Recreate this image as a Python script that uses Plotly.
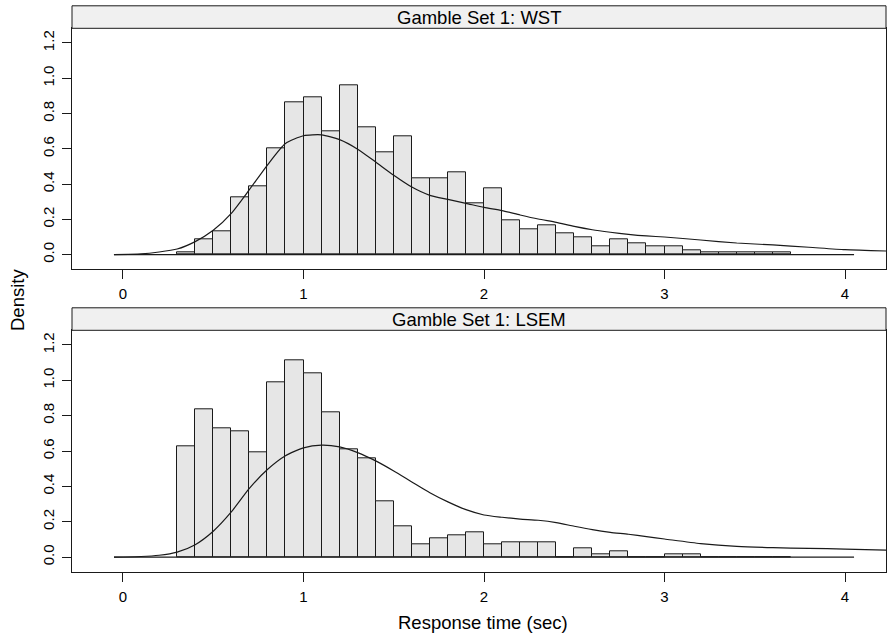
import plotly.graph_objects as go

# Histogram bins (left edges, width 0.1 s) and densities per panel
bin_width = 0.1
bin_left = [0.3, 0.4, 0.5, 0.6, 0.7, 0.8, 0.9, 1.0, 1.1, 1.2, 1.3, 1.4, 1.5, 1.6,
            1.7, 1.8, 1.9, 2.0, 2.1, 2.2, 2.3, 2.4, 2.5, 2.6, 2.7, 2.8, 2.9, 3.0,
            3.1, 3.2, 3.3, 3.4, 3.5, 3.6]
wst_hist = [0.011, 0.086, 0.133, 0.324, 0.385, 0.601, 0.866, 0.890, 0.698, 0.962,
            0.722, 0.578, 0.673, 0.431, 0.431, 0.469, 0.291, 0.374, 0.195, 0.146,
            0.168, 0.121, 0.096, 0.049, 0.087, 0.062, 0.049, 0.049, 0.026, 0.011,
            0.011, 0.011, 0.011, 0.011]
lsem_hist = [0.624, 0.834, 0.730, 0.711, 0.590, 0.989, 1.112, 1.042, 0.817, 0.609,
             0.556, 0.314, 0.174, 0.070, 0.104, 0.121, 0.138, 0.070, 0.085, 0.085,
             0.085, 0.0, 0.051, 0.017, 0.034, 0.0, 0.0, 0.017, 0.017, 0.0,
             0.0, 0.0, 0.0, 0.0]

# Kernel density estimates
dens_x = [-0.05, 0.1, 0.2, 0.3, 0.4, 0.5, 0.6, 0.7, 0.8, 0.9, 1.0, 1.1, 1.2, 1.3,
          1.4, 1.5, 1.6, 1.7, 1.8, 1.9, 2.0, 2.1, 2.2, 2.3, 2.4, 2.5, 2.6, 2.7,
          2.8, 2.9, 3.0, 3.2, 3.4, 3.6, 3.8, 4.0, 4.25]
wst_dens = [0.0, 0.004, 0.015, 0.032, 0.074, 0.138, 0.234, 0.368, 0.508, 0.630,
            0.674, 0.679, 0.652, 0.598, 0.525, 0.450, 0.383, 0.336, 0.313, 0.291,
            0.268, 0.250, 0.225, 0.202, 0.183, 0.160, 0.141, 0.127, 0.115, 0.106,
            0.100, 0.083, 0.066, 0.055, 0.042, 0.028, 0.020]
lsem_dens = [0.0, 0.003, 0.010, 0.028, 0.070, 0.146, 0.255, 0.388, 0.495, 0.573,
             0.618, 0.633, 0.623, 0.591, 0.544, 0.487, 0.425, 0.364, 0.312, 0.268,
             0.238, 0.225, 0.215, 0.208, 0.195, 0.174, 0.155, 0.140, 0.129, 0.115,
             0.102, 0.076, 0.060, 0.053, 0.049, 0.045, 0.038]
baseline_span = [-0.05, 4.05]

panel_titles = ["Gamble Set 1: WST", "Gamble Set 1: LSEM"]
x_ticks = [0, 1, 2, 3, 4]
y_ticks = [0.0, 0.2, 0.4, 0.6, 0.8, 1.0, 1.2]
y_ticklabels = ["0.0", "0.2", "0.4", "0.6", "0.8", "1.0", "1.2"]

W, H = 887, 642
FONT = "Liberation Sans, Arial, sans-serif"
BAR_FILL = "#e6e6e6"
INK = "#1a1a1a"

# panel geometry in pixels (top, bottom of plotting region)
left_px, right_px = 72, 886
panels_px = [(28.3, 269.3), (330.3, 571.7)]
strip_h = 22.5

centers = [b + bin_width / 2 for b in bin_left]

fig = go.Figure()
hists = [wst_hist, lsem_hist]
dens = [wst_dens, lsem_dens]

for i in range(2):
    xa = "x" if i == 0 else "x2"
    ya = "y" if i == 0 else "y2"
    fig.add_trace(go.Bar(
        x=centers, y=hists[i], width=bin_width,
        marker=dict(color=BAR_FILL, line=dict(color=INK, width=1)),
        xaxis=xa, yaxis=ya, showlegend=False, hoverinfo="x+y"))
    fig.add_trace(go.Scatter(
        x=baseline_span, y=[0, 0], mode="lines",
        line=dict(color=INK, width=1.2),
        xaxis=xa, yaxis=ya, showlegend=False, hoverinfo="skip"))
    fig.add_trace(go.Scatter(
        x=dens_x, y=dens[i], mode="lines",
        line=dict(color=INK, width=1.2, shape="spline", smoothing=0.6),
        xaxis=xa, yaxis=ya, showlegend=False))

x_range = [-0.2825, 4.227]
y_range = [-0.083, 1.283]

axis_common = dict(
    showline=True, linecolor=INK, linewidth=1, mirror=True,
    showgrid=False, zeroline=False, ticks="outside", ticklen=9,
    tickcolor=INK, tickwidth=1, ticklabelstandoff=2,
    tickfont=dict(family=FONT, size=15, color="#000"),
)

layout = dict(
    width=W, height=H,
    margin=dict(l=0, r=0, t=0, b=0),
    paper_bgcolor="white", plot_bgcolor="white",
    bargap=0, showlegend=False,
)

shapes, annotations = [], []
for i, (top, bot) in enumerate(panels_px):
    ydom = [1 - bot / H, 1 - top / H]
    xdom = [left_px / W, right_px / W]
    sx = "" if i == 0 else "2"
    layout["xaxis" + sx] = dict(axis_common, domain=xdom, range=x_range,
                                tickvals=x_ticks, anchor="y" + sx)
    layout["yaxis" + sx] = dict(axis_common, domain=ydom, range=y_range,
                                tickvals=y_ticks, ticktext=y_ticklabels,
                                tickangle=-90, anchor="x" + sx)
    # strip above each panel
    shapes.append(dict(type="rect", xref="paper", yref="paper",
                       x0=left_px / W, x1=right_px / W,
                       y0=1 - top / H, y1=1 - (top - strip_h) / H,
                       fillcolor="#f0f0f0", line=dict(color=INK, width=1)))
    annotations.append(dict(text=panel_titles[i], xref="paper", yref="paper",
                            x=(left_px + right_px) / 2 / W,
                            y=1 - (top - strip_h / 2) / H,
                            showarrow=False, xanchor="center", yanchor="middle",
                            font=dict(family=FONT, size=18.5, color="#000")))

annotations.append(dict(text="Density", xref="paper", yref="paper",
                        x=17 / W, y=1 - 300 / H, textangle=-90,
                        showarrow=False, xanchor="center", yanchor="middle",
                        font=dict(family=FONT, size=18.5, color="#000")))
annotations.append(dict(text="Response time (sec)", xref="paper", yref="paper",
                        x=483 / W, y=1 - 622 / H,
                        showarrow=False, xanchor="center", yanchor="middle",
                        font=dict(family=FONT, size=18.5, color="#000")))

layout["shapes"] = shapes
layout["annotations"] = annotations
fig.update_layout(**layout)

fig.write_html("out.html")
